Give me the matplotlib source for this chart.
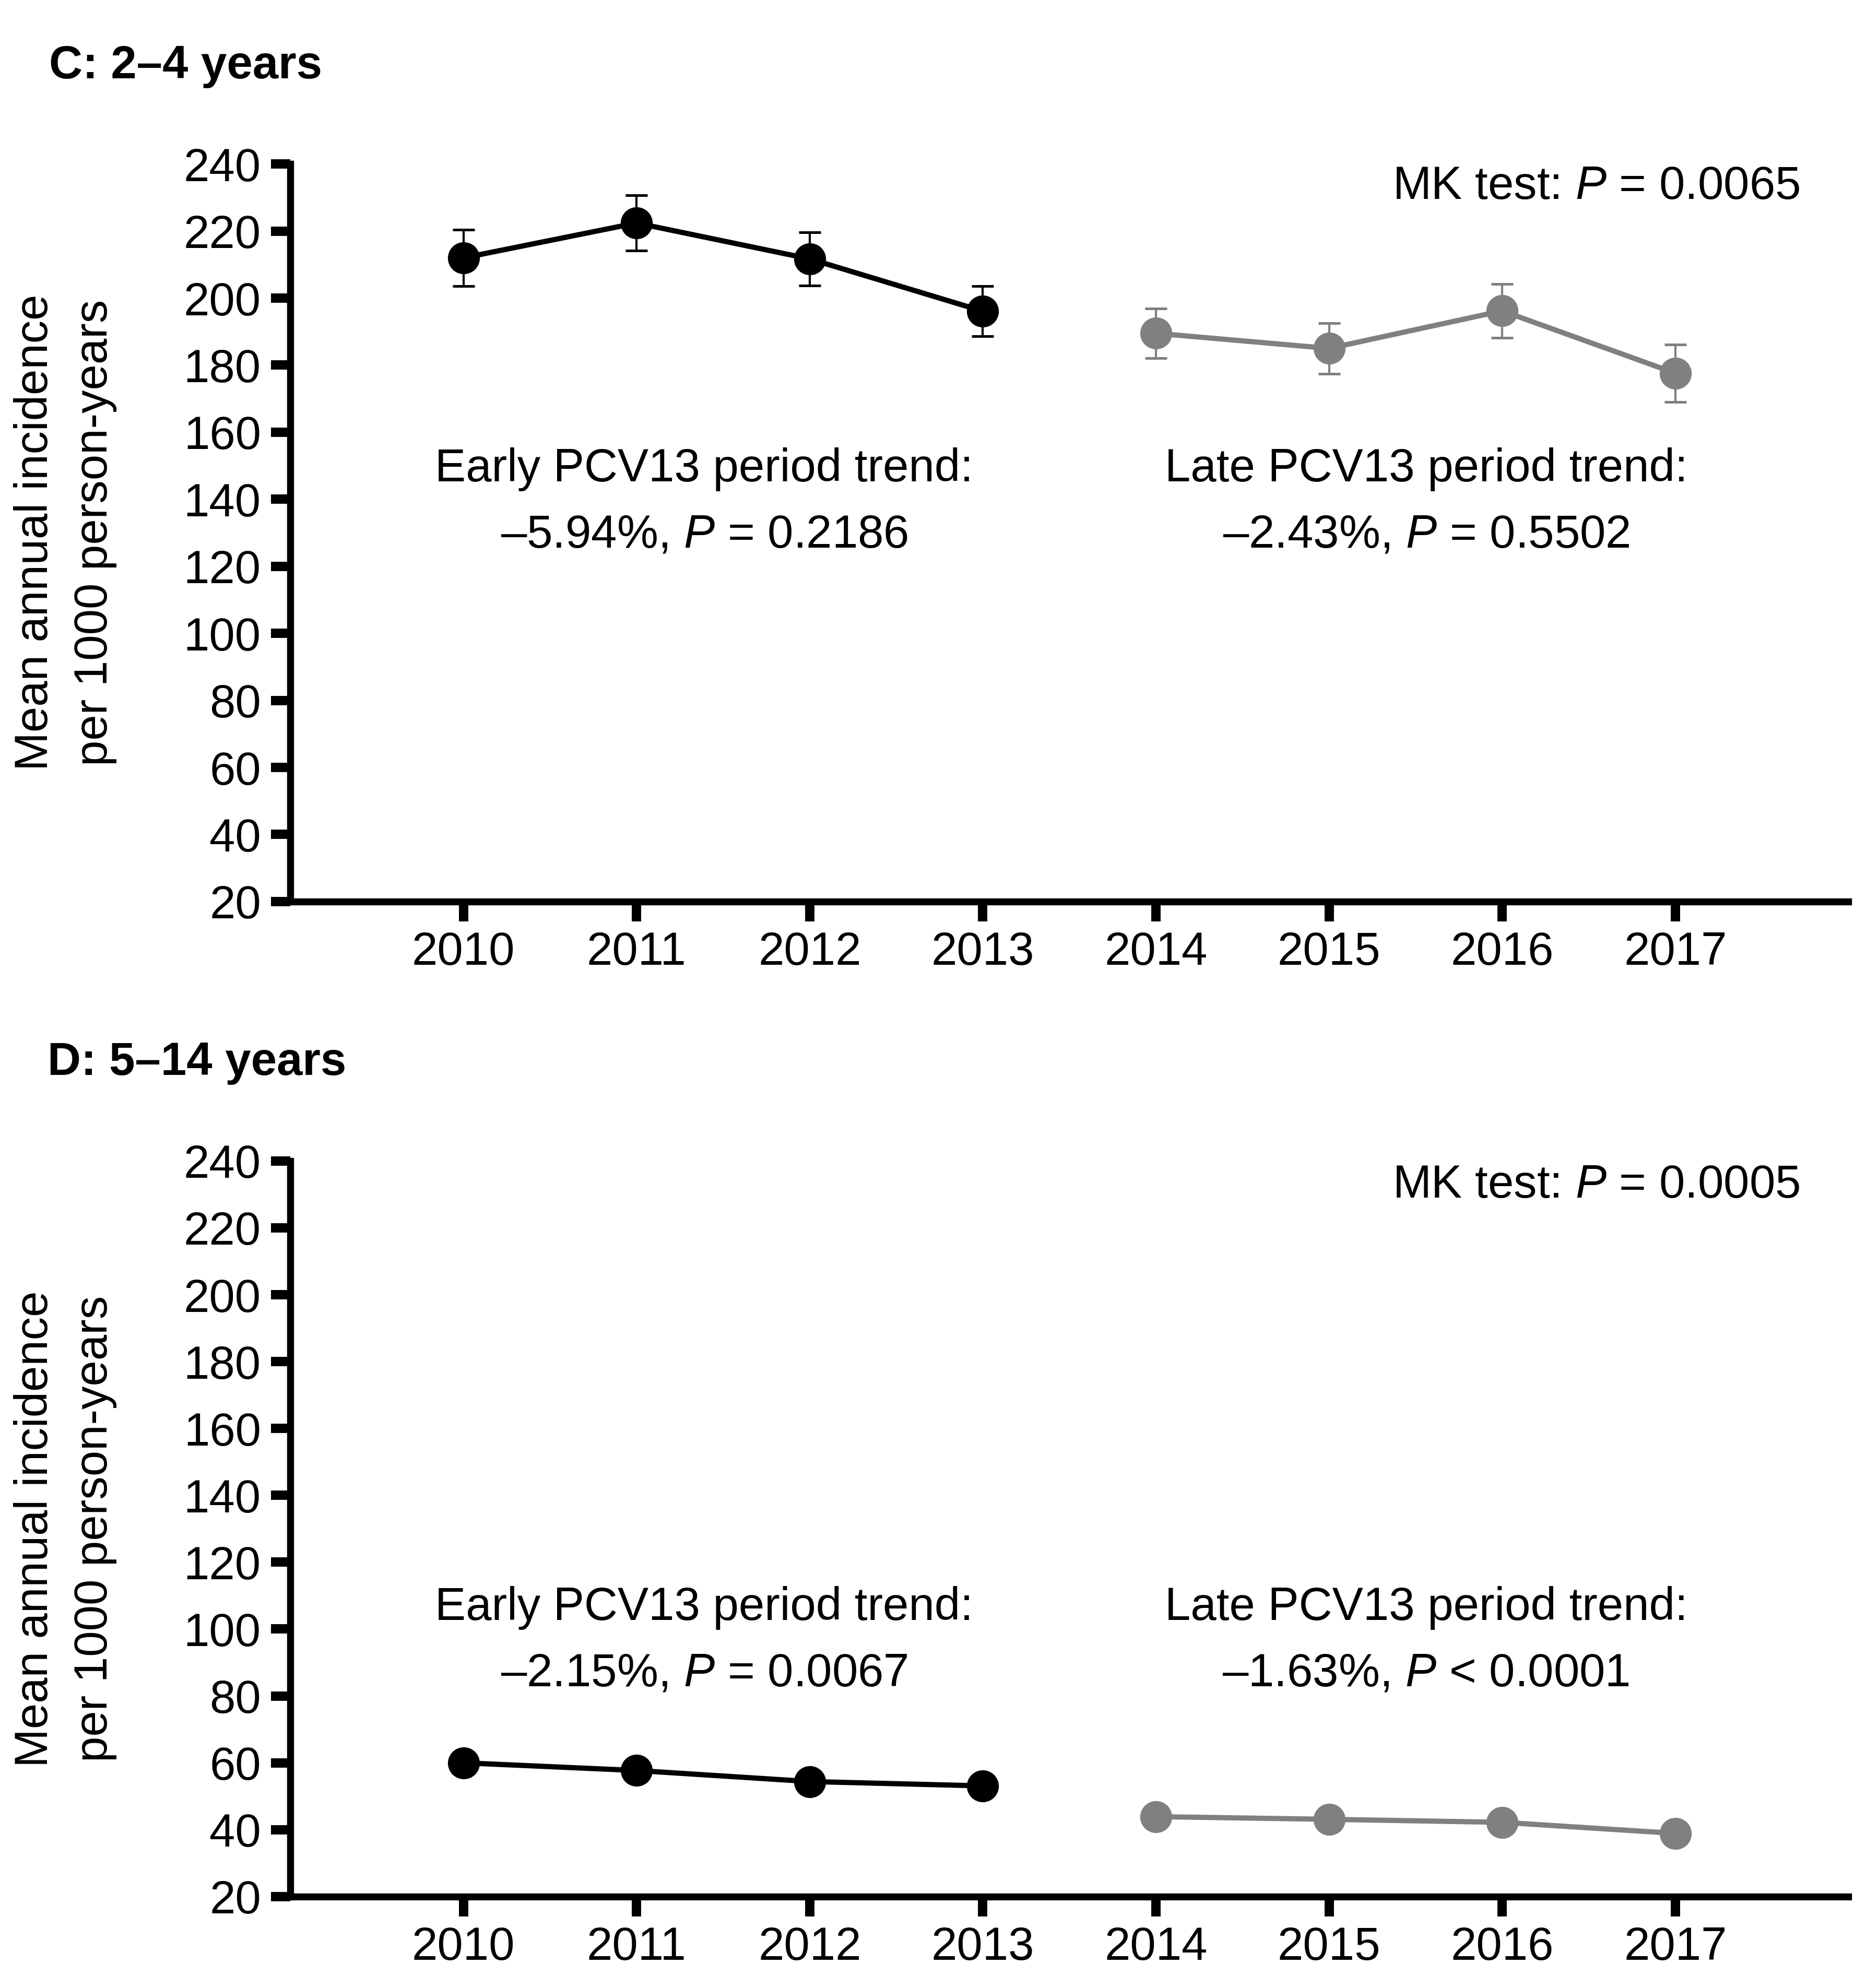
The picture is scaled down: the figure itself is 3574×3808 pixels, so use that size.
import matplotlib
matplotlib.use('Agg')
import matplotlib.pyplot as plt

plt.rcParams['font.family'] = ['Liberation Sans', 'DejaVu Sans']
plt.rcParams['mathtext.fontset'] = 'custom'
plt.rcParams['mathtext.rm'] = 'Liberation Sans'
plt.rcParams['mathtext.it'] = 'Liberation Sans:italic'

# data
years_early = [2010, 2011, 2012, 2013]
years_late = [2014, 2015, 2016, 2017]
yticks = list(range(20, 241, 20))

c_early = [212.0, 222.4, 211.7, 196.1]
c_early_err = [8.4, 8.3, 8.0, 7.5]
c_late = [189.5, 185.0, 196.2, 177.6]
c_late_err = [7.4, 7.6, 8.0, 8.6]

d_early = [60.0, 57.7, 54.4, 53.1]
d_late = [43.9, 43.1, 42.2, 38.9]

c_title = "C: 2\u20134 years"
d_title = "D: 5\u201314 years"
ylabel = "Mean annual incidence\nper 1000 person-years"

c_mk = "MK test: $P$ = 0.0065"
d_mk = "MK test: $P$ = 0.0005"
c_early_txt = ["Early PCV13 period trend:", "\u20135.94%, $P$ = 0.2186"]
c_late_txt = ["Late PCV13 period trend:", "\u20132.43%, $P$ = 0.5502"]
d_early_txt = ["Early PCV13 period trend:", "\u20132.15%, $P$ = 0.0067"]
d_late_txt = ["Late PCV13 period trend:", "\u20131.63%, $P$ < 0.0001"]

GREY = '#808080'
FS = 21.3

fig = plt.figure(figsize=(3574 / 300, 3808 / 300), dpi=300)
ax_c = fig.add_axes([0.1556, 0.5465, 0.8350, 0.371])
ax_d = fig.add_axes([0.1556, 0.0460, 0.8350, 0.370])


def style(ax):
    ax.set_xlim(2009, 2018)
    ax.set_ylim(20, 240)
    ax.set_xticks(years_early + years_late)
    ax.set_yticks(yticks)
    for s in ['top', 'right']:
        ax.spines[s].set_visible(False)
    for s in ['left', 'bottom']:
        ax.spines[s].set_linewidth(3.2)
    ax.tick_params(width=4.3, length=9, labelsize=FS, pad=4.5)


def series(ax, x, y, err, col):
    if err is not None:
        ax.errorbar(x, y, yerr=err, color=col, marker='o', ms=13.7, lw=2.4,
                    elinewidth=1.0, capsize=5, capthick=1.2, clip_on=False)
    else:
        ax.plot(x, y, color=col, marker='o', ms=13.7, lw=2.4, clip_on=False)


def notes(ax, mk, mk_y, early, late, y1, y2):
    ax.text(2017.72, mk_y, mk, ha='right', va='baseline', fontsize=FS)
    ax.text(2011.39, y1, early[0], ha='center', va='baseline', fontsize=FS)
    ax.text(2011.39, y2, early[1], ha='center', va='baseline', fontsize=FS)
    ax.text(2015.56, y1, late[0], ha='center', va='baseline', fontsize=FS)
    ax.text(2015.56, y2, late[1], ha='center', va='baseline', fontsize=FS)


# panel C
style(ax_c)
series(ax_c, years_early, c_early, c_early_err, 'black')
series(ax_c, years_late, c_late, c_late_err, GREY)
notes(ax_c, c_mk, 229.6, c_early_txt, c_late_txt, 145.3, 125.7)

# panel D
style(ax_d)
series(ax_d, years_early, d_early, None, 'black')
series(ax_d, years_late, d_late, None, GREY)
notes(ax_d, d_mk, 229.0, d_early_txt, d_late_txt, 102.8, 82.9)

fig.text(0.0262, 0.9606, c_title, fontsize=21.3, fontweight='bold', va='baseline')
fig.text(0.0255, 0.4593, d_title, fontsize=21.3, fontweight='bold', va='baseline')
fig.text(0.0350, 0.7321, ylabel, rotation=90, ha='center', va='center',
         fontsize=FS, linespacing=1.45, multialignment='center')
fig.text(0.0350, 0.2310, ylabel, rotation=90, ha='center', va='center',
         fontsize=FS, linespacing=1.45, multialignment='center')

fig.savefig('out.png', dpi=300)
